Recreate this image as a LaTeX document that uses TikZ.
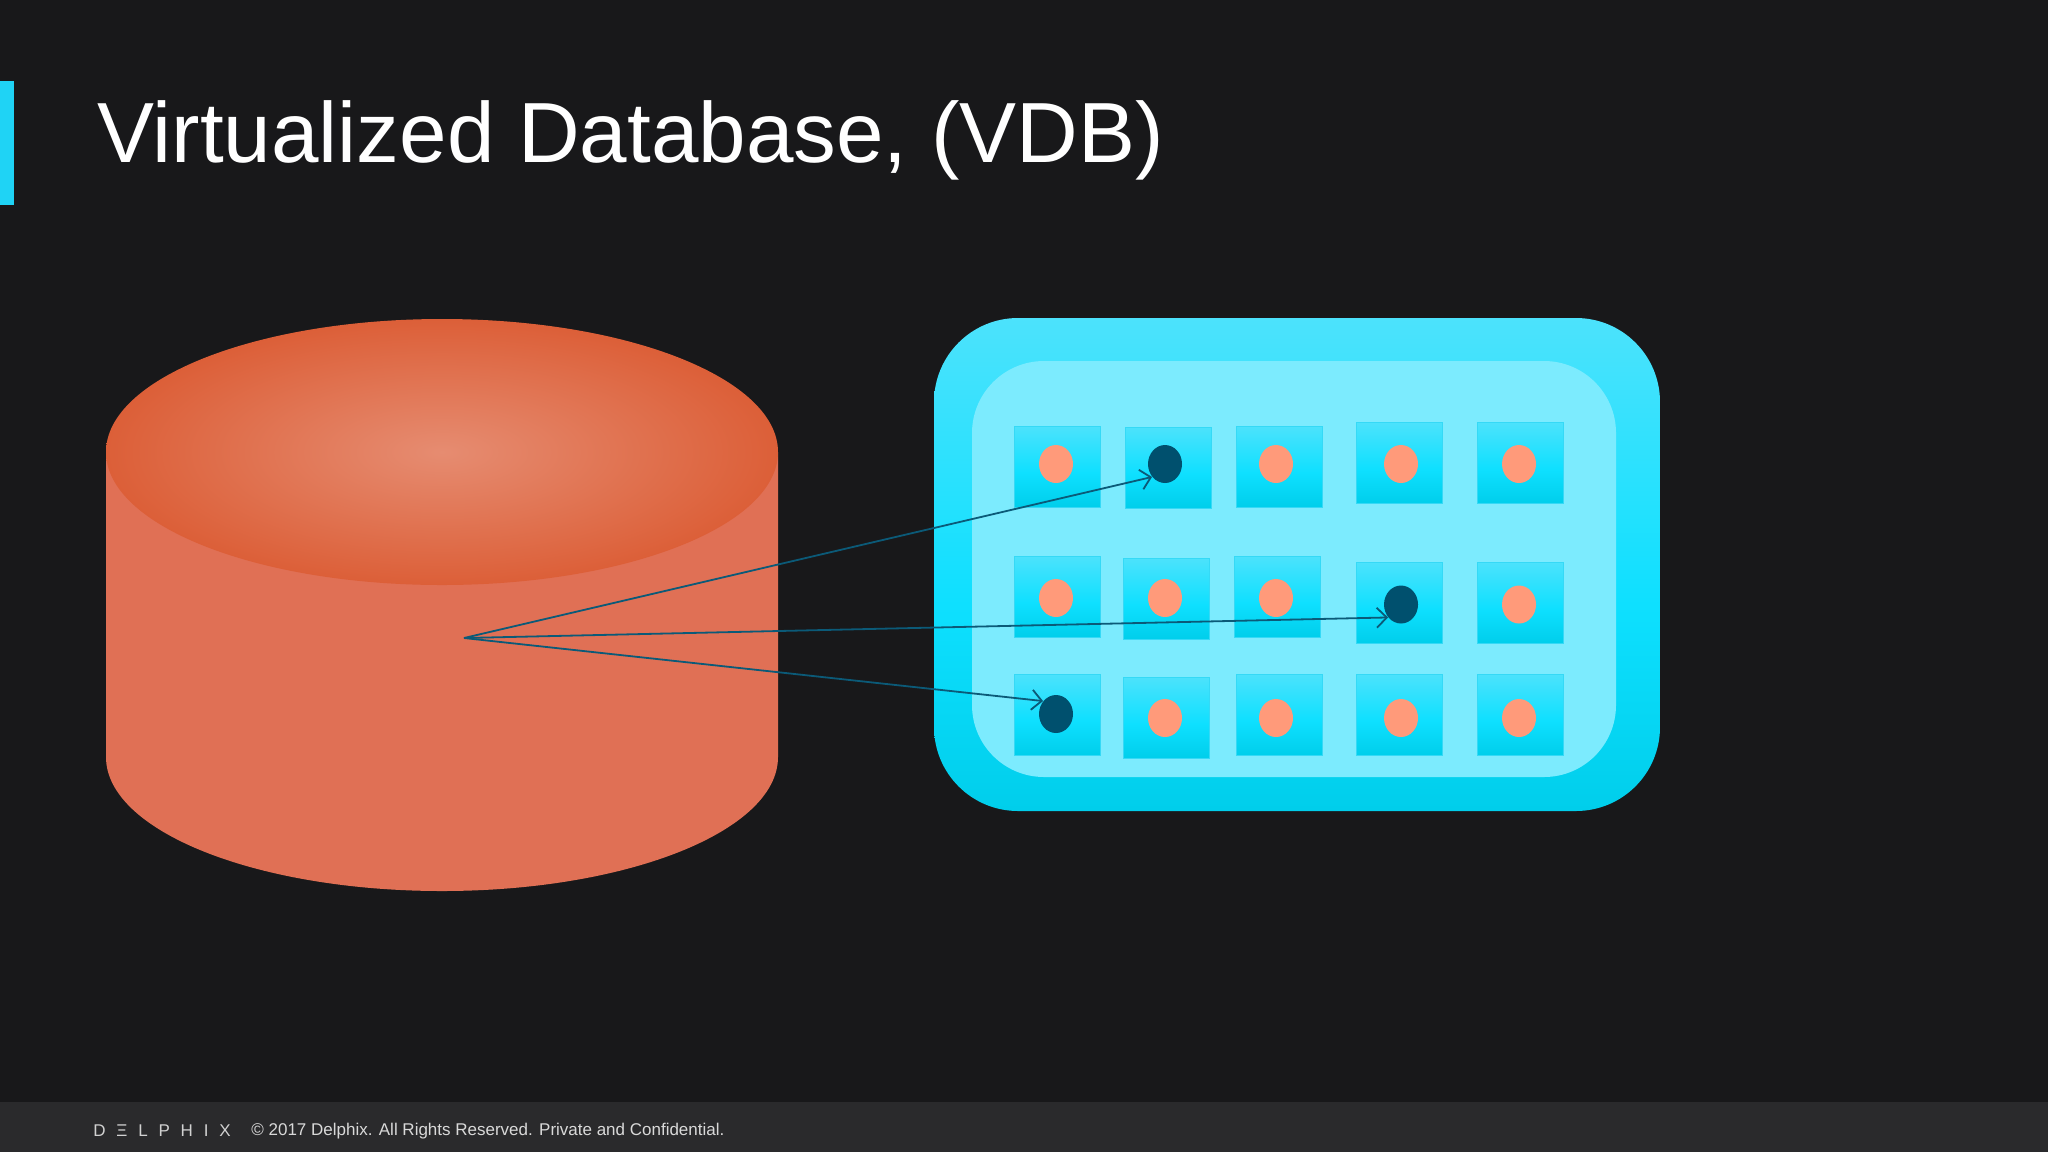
\documentclass[tikz,border=0pt]{standalone}
\usepackage{fontspec}
\usepackage{xcolor}
\usetikzlibrary{arrows.meta,shapes.geometric}
\setmainfont{Liberation Sans}

\definecolor{slatebg}{HTML}{18181A}
\definecolor{footbg}{HTML}{2A2A2C}
\definecolor{accentbar}{HTML}{1FD3F5}
\definecolor{drumbody}{HTML}{E07055}
\definecolor{capmid}{HTML}{E68C71}
\definecolor{capedge}{HTML}{DC5F38}
\definecolor{skytop}{HTML}{4CE2FC}
\definecolor{skymid}{HTML}{0EE0FF}
\definecolor{skybot}{HTML}{00CEEB}
\definecolor{trayfill}{HTML}{7CEBFE}
\definecolor{tileedge}{HTML}{35D9F6}
\definecolor{dotlight}{HTML}{FF9A7A}
\definecolor{dotdark}{HTML}{00506E}
\definecolor{linkblue}{HTML}{0B5A78}
\pgfdeclareradialshading{capshade}{\pgfpoint{0bp}{0bp}}{color(0bp)=(capmid); color(25bp)=(capedge); color(50bp)=(capedge)}
\pgfdeclareverticalshading{skyshade}{100bp}{color(0bp)=(skybot); color(25bp)=(skybot); color(46bp)=(skymid); color(75bp)=(skytop); color(100bp)=(skytop)}

\begin{document}
\begin{tikzpicture}[
x=0.5pt, y=-0.5pt,
drumcap/.style={ellipse, draw=none, inner sep=0pt, minimum width=336pt, minimum height=133pt, shading=capshade},
panelbox/.style={rounded corners=42pt, inner sep=0pt, minimum width=363pt, minimum height=246.5pt, shading=skyshade},
traybox/.style={rounded corners=36pt, inner sep=0pt, minimum width=322pt, minimum height=208pt, fill=trayfill},
tile/.style={draw=tileedge, line width=0.4pt, inner sep=0pt, minimum width=43pt, minimum height=40.5pt, shading=skyshade},
dotoff/.style={ellipse, inner sep=0pt, minimum width=17pt, minimum height=19pt, fill=dotlight},
doton/.style={dotoff, fill=dotdark},
arrow/.style={-{Straight Barb[length=5pt,width=10pt]}, line width=0.9pt, draw=linkblue}
]
\fill[slatebg] (0,0) rectangle (2048,1152);
\fill[footbg] (0,1102) rectangle (2048,1152);
\fill[accentbar] (0,81) rectangle (14,205);

\node[anchor=base west, inner sep=0pt, text=white, font=\fontsize{42.7}{52}\selectfont] (title) at (97,162) {Virtualized Database, (VDB)};
\node[anchor=west, inner sep=0pt, text=white!82!black, font=\fontsize{8.5}{10}\selectfont] (logo) at (93,1131) {D\hspace{5.4pt}Ξ\hspace{5.4pt}L\hspace{5.4pt}P\hspace{5.4pt}H\hspace{5.4pt}I\hspace{5.4pt}X};
\node[anchor=west, inner sep=0pt, text=white!85!black, font=\fontsize{8.5}{11}\selectfont] (legal) at (251,1131) {© 2017 Delphix. All Rights Reserved. Private and Confidential.};

% database drum
\fill[drumbody] (106,452) -- (106,757) arc[start angle=180, end angle=0, x radius=336, y radius=134] -- (778,452) -- cycle;
\node[drumcap] (drumtop) at (442,452) {};
\coordinate (hub) at (464,638);

% block panel
\node[panelbox] (panel) at (1297,564.5) {};
\node[traybox] (inner) at (1294,569) {};

\node[tile] (t11) at (1057,466.5) {};
\node[tile] (t12) at (1168,467.5) {};
\node[tile] (t13) at (1279,466.5) {};
\node[tile] (t14) at (1399,463) {};
\node[tile] (t15) at (1520,463) {};
\node[tile] (t21) at (1057,596.5) {};
\node[tile] (t22) at (1166,598.5) {};
\node[tile] (t23) at (1277,596.5) {};
\node[tile] (t24) at (1399,602.5) {};
\node[tile] (t25) at (1520,602.5) {};
\node[tile] (t31) at (1057,714.5) {};
\node[tile] (t32) at (1166,717.5) {};
\node[tile] (t33) at (1279,714.5) {};
\node[tile] (t34) at (1399,714.5) {};
\node[tile] (t35) at (1520,714.5) {};

\node[dotoff] (d11) at (1056,464) {};
\node[doton] (d12) at (1165,464) {};
\node[dotoff] (d13) at (1276,464) {};
\node[dotoff] (d14) at (1401,464) {};
\node[dotoff] (d15) at (1519,464) {};
\node[dotoff] (d21) at (1056,598) {};
\node[dotoff] (d22) at (1165,598) {};
\node[dotoff] (d23) at (1276,598) {};
\node[doton] (d24) at (1401,604.5) {};
\node[dotoff] (d25) at (1519,604.5) {};
\node[doton] (d31) at (1056,714) {};
\node[dotoff] (d32) at (1165,718) {};
\node[dotoff] (d33) at (1276,718) {};
\node[dotoff] (d34) at (1401,718) {};
\node[dotoff] (d35) at (1519,718) {};

\draw[arrow] (hub) -- (d12.225);
\draw[arrow] (hub) -- (d24.225);
\draw[arrow] (hub) -- (d31.135);
\end{tikzpicture}
\end{document}
